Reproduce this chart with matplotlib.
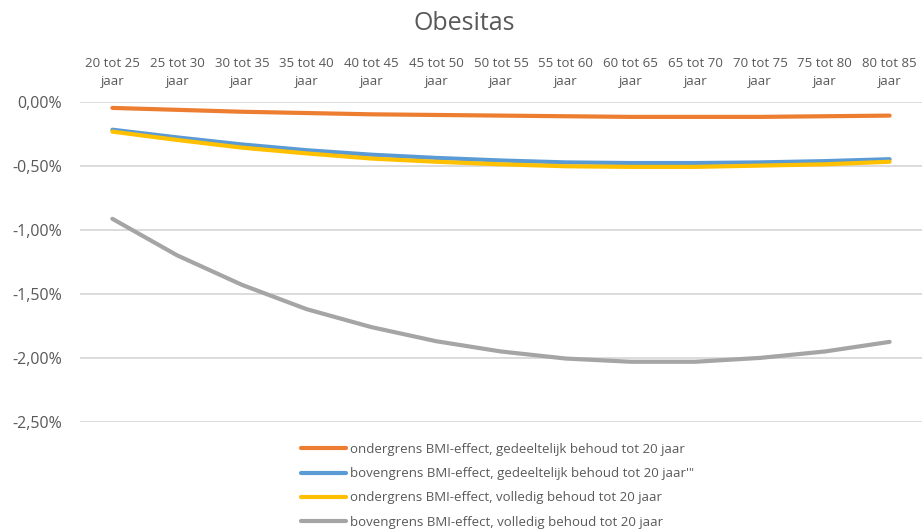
import numpy as np
import matplotlib
matplotlib.use('Agg')
import matplotlib.pyplot as plt
from matplotlib.ticker import FuncFormatter, MultipleLocator

plt.rcParams['font.family'] = ['Open Sans', 'DejaVu Sans']

# leeftijdsklassen
categories = ['20 tot 25\njaar', '25 tot 30\njaar', '30 tot 35\njaar', '35 tot 40\njaar',
              '40 tot 45\njaar', '45 tot 50\njaar', '50 tot 55\njaar', '55 tot 60\njaar',
              '60 tot 65\njaar', '65 tot 70\njaar', '70 tot 75\njaar', '75 tot 80\njaar',
              '80 tot 85\njaar']

# waarden in procenten
onder_gedeeltelijk = [-0.05, -0.065, -0.08, -0.09, -0.10, -0.105, -0.11,
                      -0.115, -0.12, -0.12, -0.12, -0.115, -0.11]
boven_gedeeltelijk = [-0.22, -0.28, -0.335, -0.38, -0.415, -0.44, -0.46,
                      -0.475, -0.48, -0.48, -0.475, -0.465, -0.45]
onder_volledig = [-0.235, -0.30, -0.36, -0.405, -0.445, -0.47, -0.49,
                  -0.505, -0.51, -0.51, -0.50, -0.49, -0.47]
boven_volledig = [-0.915, -1.20, -1.43, -1.62, -1.76, -1.87, -1.95,
                  -2.005, -2.03, -2.03, -2.0, -1.95, -1.875]

series = [
    ('ondergrens BMI-effect, gedeeltelijk behoud tot 20 jaar', onder_gedeeltelijk, '#ED7D31'),
    ("bovengrens BMI-effect, gedeeltelijk behoud tot 20 jaar'\"", boven_gedeeltelijk, '#5B9BD5'),
    ('ondergrens BMI-effect, volledig behoud tot 20 jaar', onder_volledig, '#FFC000'),
    ('bovengrens BMI-effect, volledig behoud tot 20 jaar', boven_volledig, '#A5A5A5'),
]

text_color = '#595959'

fig = plt.figure(figsize=(9.22, 5.30), dpi=100)
ax = fig.add_axes([80 / 922, 1 - 422 / 530, 842 / 922, (422 - 101.5) / 530])

x = np.arange(len(categories))
for label, values, color in series:
    ax.plot(x, values, color=color, linewidth=3, solid_capstyle='round',
            solid_joinstyle='round', label=label)

ax.set_xlim(-0.5, len(categories) - 0.5)
ax.set_ylim(-2.5, 0)
ax.yaxis.set_major_locator(MultipleLocator(0.5))


def pct(v, pos):
    if abs(v) < 1e-9:
        v = 0.0
    return f'{v:.2f}%'.replace('.', ',')


ax.yaxis.set_major_formatter(FuncFormatter(pct))
ax.xaxis.tick_top()
ax.set_xticks(x)
ax.set_xticklabels(categories, linespacing=1.45)
ax.tick_params(axis='x', length=0, pad=10, labelsize=9.5, labelcolor=text_color)
ax.tick_params(axis='y', length=0, pad=13, labelsize=11.5, labelcolor=text_color)

ax.grid(axis='y', color='#D9D9D9', linewidth=1.3)
ax.set_axisbelow(True)
for s in ax.spines.values():
    s.set_visible(False)

fig.text(0.503, 1 - 23 / 530, 'Obesitas', ha='center', va='center',
         fontsize=18, color=text_color)

leg = fig.legend(loc='upper left', bbox_to_anchor=(301 / 922, 1 - 443 / 530),
                 frameon=False, fontsize=9.5, handlelength=3.4, handletextpad=0.3,
                 labelspacing=0.85, borderpad=0, borderaxespad=0)
for t in leg.get_texts():
    t.set_color(text_color)

fig.savefig('out.png', dpi=100)
